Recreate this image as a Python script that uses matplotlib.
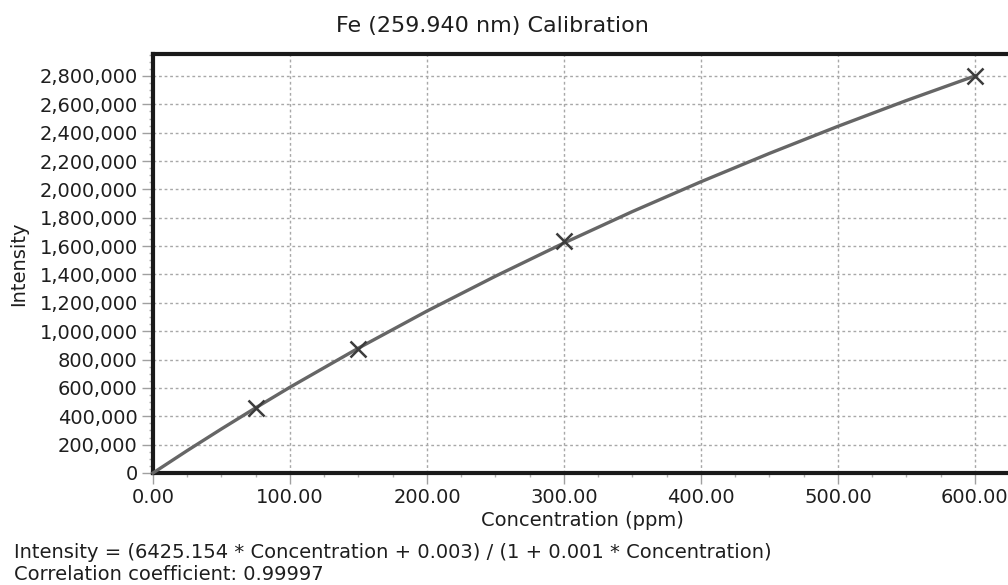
import matplotlib
matplotlib.use("Agg")
import matplotlib.pyplot as plt
from matplotlib.ticker import FuncFormatter, MultipleLocator

# Calibration standards (markers)
std_conc = [75, 150, 300, 600]
std_intensity = [455000, 872000, 1638000, 2800000]

# Fitted calibration curve
curve_conc = [0, 25, 50, 75, 100, 150, 200, 250, 300, 350, 400, 450, 500, 550, 600]
curve_intensity = [0, 158000, 311000, 460000, 605000, 881000, 1142000, 1388000,
                   1622000, 1844000, 2054000, 2254000, 2445000, 2627000, 2800000]

title = "Fe (259.940 nm) Calibration"
xlabel = "Concentration (ppm)"
ylabel = "Intensity"
eq_line = "Intensity = (6425.154 * Concentration + 0.003) / (1 + 0.001 * Concentration)"
corr_line = "Correlation coefficient: 0.99997"

plt.rcParams['font.family'] = ['DejaVu Sans']
txt = '#1e1e1e'

fig = plt.figure(figsize=(10.08, 5.85), dpi=100)
W, H = 1008, 585
left, right, top, bottom = 153, 1016, 54, 473
ax = fig.add_axes([left / W, (H - bottom) / H, (right - left) / W, (bottom - top) / H])

ax.plot(curve_conc, curve_intensity, color='#666666', lw=2.4, zorder=3, clip_on=False)
ax.plot(std_conc, std_intensity, linestyle='none', marker='x', ms=11, mew=1.8,
        color='#3c3c3c', zorder=4, clip_on=False)

ax.set_xlim(0, 630)
ax.set_ylim(0, 2955000)
ax.xaxis.set_major_locator(MultipleLocator(100))
ax.xaxis.set_minor_locator(MultipleLocator(25))
ax.yaxis.set_major_locator(MultipleLocator(200000))
ax.yaxis.set_minor_locator(MultipleLocator(50000))
ax.xaxis.set_major_formatter(FuncFormatter(lambda v, p: f"{v:.2f}"))
ax.yaxis.set_major_formatter(FuncFormatter(lambda v, p: f"{int(round(v)):,}"))

ax.grid(True, which='major', color='#a8a8a8', linestyle=(0, (2, 2)), lw=1.0)
ax.tick_params(axis='both', which='major', direction='out', length=8, width=1,
               color='#a0a0a0', labelsize=14, labelcolor=txt, pad=3)
ax.tick_params(axis='both', which='minor', direction='out', length=3, width=1,
               color='#b0b0b0')

for side in ['left', 'bottom', 'top']:
    ax.spines[side].set_linewidth(3)
    ax.spines[side].set_color('#1a1a1a')
ax.spines['right'].set_visible(False)

ax.set_xlabel(xlabel, fontsize=14, color=txt)
ax.xaxis.set_label_coords((582 - left) / (right - left), -(511 - bottom) / (bottom - top))
ax.set_ylabel(ylabel, fontsize=14, color=txt)
ax.yaxis.set_label_coords(-(left - 28) / (right - left), 0.5)

fig.text(492 / W, 1 - 26 / H, title, ha='center', va='center', fontsize=16, color=txt)
fig.text(14 / W, 1 - 553 / H, eq_line, ha='left', va='center', fontsize=14, color=txt)
fig.text(14 / W, 1 - 574 / H, corr_line, ha='left', va='center', fontsize=14, color=txt)

fig.savefig("out.png", dpi=100)
